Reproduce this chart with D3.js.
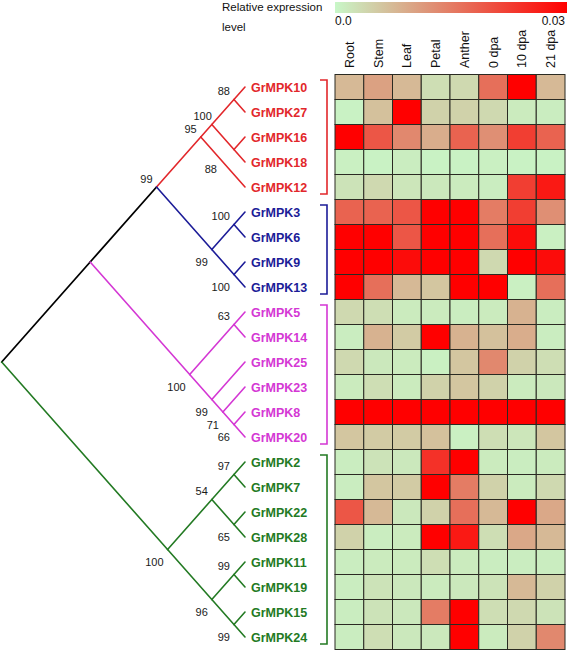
<!DOCTYPE html>
<html>
<head>
<meta charset="utf-8">
<script src="https://cdn.jsdelivr.net/npm/d3@7"></script>
<style>
  html, body { margin: 0; padding: 0; background: #fff; }
  svg { display: block; font-family: "Liberation Sans", Arial, sans-serif; }
</style>
</head>
<body>
<svg id="chart" width="567" height="650"></svg>
<script>
// tissues (heatmap columns)
const tissues = ['Root', 'Stem', 'Leaf', 'Petal', 'Anther', '0 dpa', '10 dpa', '21 dpa'];

// genes in tree order (heatmap rows)
const genes = ['GrMPK10','GrMPK27','GrMPK16','GrMPK18','GrMPK12',
  'GrMPK3','GrMPK6','GrMPK9','GrMPK13',
  'GrMPK5','GrMPK14','GrMPK25','GrMPK23','GrMPK8','GrMPK20',
  'GrMPK2','GrMPK7','GrMPK22','GrMPK28','GrMPK11','GrMPK19','GrMPK15','GrMPK24'];

// relative expression level, one row per gene, one value per tissue
const expression = [
  [0.0075, 0.0105, 0.0075, 0.0030, 0.0036, 0.0165, 0.0300, 0.0075],
  [0.0006, 0.0066, 0.0300, 0.0045, 0.0045, 0.0036, 0.0015, 0.0012],
  [0.0300, 0.0195, 0.0135, 0.0090, 0.0180, 0.0126, 0.0225, 0.0180],
  [0.0009, 0.0006, 0.0012, 0.0006, 0.0006, 0.0009, 0.0006, 0.0006],
  [0.0024, 0.0036, 0.0021, 0.0018, 0.0015, 0.0012, 0.0225, 0.0270],
  [0.0180, 0.0180, 0.0195, 0.0300, 0.0300, 0.0150, 0.0225, 0.0126],
  [0.0300, 0.0300, 0.0195, 0.0300, 0.0300, 0.0165, 0.0285, 0.0009],
  [0.0300, 0.0300, 0.0285, 0.0300, 0.0300, 0.0036, 0.0300, 0.0285],
  [0.0300, 0.0165, 0.0075, 0.0060, 0.0300, 0.0300, 0.0009, 0.0165],
  [0.0036, 0.0030, 0.0015, 0.0015, 0.0012, 0.0015, 0.0084, 0.0012],
  [0.0012, 0.0084, 0.0054, 0.0300, 0.0084, 0.0066, 0.0090, 0.0012],
  [0.0036, 0.0018, 0.0015, 0.0009, 0.0060, 0.0135, 0.0045, 0.0030],
  [0.0015, 0.0030, 0.0015, 0.0045, 0.0060, 0.0045, 0.0015, 0.0018],
  [0.0300, 0.0300, 0.0300, 0.0300, 0.0300, 0.0300, 0.0300, 0.0300],
  [0.0060, 0.0054, 0.0054, 0.0066, 0.0009, 0.0030, 0.0021, 0.0060],
  [0.0012, 0.0024, 0.0018, 0.0240, 0.0300, 0.0015, 0.0012, 0.0015],
  [0.0012, 0.0060, 0.0054, 0.0300, 0.0150, 0.0045, 0.0015, 0.0036],
  [0.0195, 0.0075, 0.0018, 0.0045, 0.0165, 0.0075, 0.0300, 0.0096],
  [0.0045, 0.0012, 0.0015, 0.0300, 0.0270, 0.0030, 0.0096, 0.0075],
  [0.0012, 0.0015, 0.0015, 0.0030, 0.0015, 0.0012, 0.0012, 0.0012],
  [0.0012, 0.0024, 0.0018, 0.0015, 0.0018, 0.0024, 0.0075, 0.0045],
  [0.0012, 0.0024, 0.0018, 0.0150, 0.0300, 0.0030, 0.0036, 0.0024],
  [0.0012, 0.0030, 0.0018, 0.0018, 0.0300, 0.0015, 0.0045, 0.0135]
];

// colour scale ends / legend tick labels
const scaleDomain = [0, 0.03];
const legendTicks = ['0.0', '0.03'];

// clade colours
const cladeColor = { red: '#e2272b', blue: '#1c1c98', magenta: '#d437d4', green: '#237a23' };

// tree: support = bootstrap, pos = where the bootstrap label sits
const tree = { children: [
  { children: [
    { support: 99, pos: 'a', children: [
      { support: 95, pos: 'a', clade: 'red', children: [
        { support: 100, pos: 'a0', children: [
          { support: 88, pos: 'a', children: [{ name: 'GrMPK10' }, { name: 'GrMPK27' }] },
          { support: 88, pos: 'bb', children: [{ name: 'GrMPK16' }, { name: 'GrMPK18' }] }
        ] },
        { name: 'GrMPK12' }
      ] },
      { support: 99, pos: 'b', clade: 'blue', children: [
        { support: 100, pos: 'a', children: [{ name: 'GrMPK3' }, { name: 'GrMPK6' }] },
        { support: 100, pos: 'b', children: [{ name: 'GrMPK9' }, { name: 'GrMPK13' }] }
      ] }
    ] },
    { support: 100, pos: 'b', clade: 'magenta', children: [
      { support: 63, pos: 'a', children: [{ name: 'GrMPK5' }, { name: 'GrMPK14' }] },
      { support: 99, pos: 'b', children: [
        { name: 'GrMPK25' },
        { support: 71, pos: 'b', children: [
          { name: 'GrMPK23' },
          { support: 66, pos: 'b', children: [{ name: 'GrMPK8' }, { name: 'GrMPK20' }] }
        ] }
      ] }
    ] }
  ] },
  { support: 100, pos: 'b', clade: 'green', children: [
    { support: 54, pos: 'a', children: [
      { support: 97, pos: 'a', children: [{ name: 'GrMPK2' }, { name: 'GrMPK7' }] },
      { support: 65, pos: 'b', children: [{ name: 'GrMPK22' }, { name: 'GrMPK28' }] }
    ] },
    { support: 96, pos: 'b', children: [
      { support: 99, pos: 'a', children: [{ name: 'GrMPK11' }, { name: 'GrMPK19' }] },
      { support: 99, pos: 'b', children: [{ name: 'GrMPK15' }, { name: 'GrMPK24' }] }
    ] }
  ] }
] };

const svg = d3.select('#chart');

// scales
const y = d3.scaleBand().domain(genes).range([74.5, 649.5]);
const x = d3.scaleBand().domain(tissues).range([335, 565]);
const color = d3.scaleLinear().domain(scaleDomain).range(['#c8f7c8', '#ff0000']).clamp(true);
const rowY = g => y(g) + y.bandwidth() / 2;
// tree x: half the leaf span (in rows) of a node -> pixel
const tx = d3.scaleLinear().domain([0, (genes.length - 1) / 2]).range([245, 1.7]);

// ---- tree layout (slanted cladogram) ----
const root = d3.hierarchy(tree);
root.each(d => { d.col = d.data.clade ? cladeColor[d.data.clade] : (d.parent ? d.parent.col : '#000'); });
root.eachAfter(d => {
  const lv = d.leaves().map(l => genes.indexOf(l.data.name));
  const lo = d3.min(lv), hi = d3.max(lv);
  d.py = (rowY(genes[lo]) + rowY(genes[hi])) / 2;
  d.px = tx((hi - lo) / 2);
  d.lo = lo; d.hi = hi;
});

const gt = svg.append('g');
gt.selectAll('line.br')
  .data(root.descendants().filter(d => d.parent))
  .enter().append('line')
  .attr('x1', d => d.parent.px).attr('y1', d => d.parent.py)
  .attr('x2', d => d.px).attr('y2', d => d.py)
  .attr('stroke', d => d.col)
  .attr('stroke-width', d => d.col === '#000' ? 1.8 : 1.6)
  .attr('stroke-linecap', 'round');

// bootstrap values
const off = { a: [-4, -4.5], a0: [0, -4.5], b: [-4, 16.5], bb: [-17, 23] };
gt.selectAll('text.bs')
  .data(root.descendants().filter(d => d.data.support))
  .enter().append('text')
  .attr('x', d => d.px + off[d.data.pos][0])
  .attr('y', d => d.py + off[d.data.pos][1])
  .attr('text-anchor', 'end')
  .attr('font-size', 11)
  .attr('fill', '#1a1a1a')
  .text(d => d.data.support);

// leaf labels
gt.selectAll('text.leaf')
  .data(root.leaves())
  .enter().append('text')
  .attr('x', 251)
  .attr('y', d => rowY(d.data.name))
  .attr('dy', '0.36em')
  .attr('font-size', 12.5)
  .attr('font-weight', 'bold')
  .attr('fill', d => d.col)
  .text(d => d.data.name);

// clade brackets
const clades = root.descendants().filter(d => d.data.clade);
clades.forEach(c => {
  const y0 = rowY(genes[c.lo]) - 7, y1 = rowY(genes[c.hi]) + 7;
  gt.append('path')
    .attr('d', `M320,${y0}H327V${y1}H320`)
    .attr('fill', 'none')
    .attr('stroke', c.col)
    .attr('stroke-width', 1.6);
});

// ---- heatmap ----
const cells = [];
genes.forEach((g, i) => tissues.forEach((t, j) => cells.push({ g, t, v: expression[i][j] })));
svg.append('g').selectAll('rect')
  .data(cells)
  .enter().append('rect')
  .attr('x', d => x(d.t)).attr('y', d => y(d.g))
  .attr('width', x.bandwidth()).attr('height', y.bandwidth())
  .attr('fill', d => color(d.v))
  .attr('stroke', '#2a2a22')
  .attr('stroke-width', 1);

// column headers
svg.append('g').selectAll('text')
  .data(tissues)
  .enter().append('text')
  .attr('transform', d => `translate(${x(d) + x.bandwidth() / 2},68) rotate(-90)`)
  .attr('dy', '0.36em')
  .attr('font-size', 12.5)
  .attr('fill', '#111')
  .text(d => d);

// ---- legend ----
const grad = svg.append('defs').append('linearGradient').attr('id', 'lg');
d3.range(0, 1.01, 0.1).forEach(t => {
  grad.append('stop').attr('offset', t).attr('stop-color', color(scaleDomain[0] + t * (scaleDomain[1] - scaleDomain[0])));
});
const lx = d3.scaleLinear().domain(scaleDomain).range([335, 567]);
svg.append('rect').attr('x', lx(scaleDomain[0])).attr('y', 2).attr('width', lx(scaleDomain[1]) - lx(scaleDomain[0])).attr('height', 11)
  .attr('fill', 'url(#lg)');
svg.append('text').attr('x', lx(scaleDomain[0])).attr('y', 25).attr('font-size', 12).attr('fill', '#111').text(legendTicks[0]);
svg.append('text').attr('x', lx(scaleDomain[1]) - 2).attr('y', 25).attr('font-size', 12).attr('text-anchor', 'end').attr('fill', '#111').text(legendTicks[1]);
svg.append('text').attr('x', 222).attr('y', 10.5).attr('font-size', 11.5).attr('fill', '#111').text('Relative expression');
svg.append('text').attr('x', 222).attr('y', 31).attr('font-size', 11.5).attr('fill', '#111').text('level');
</script>
</body>
</html>
